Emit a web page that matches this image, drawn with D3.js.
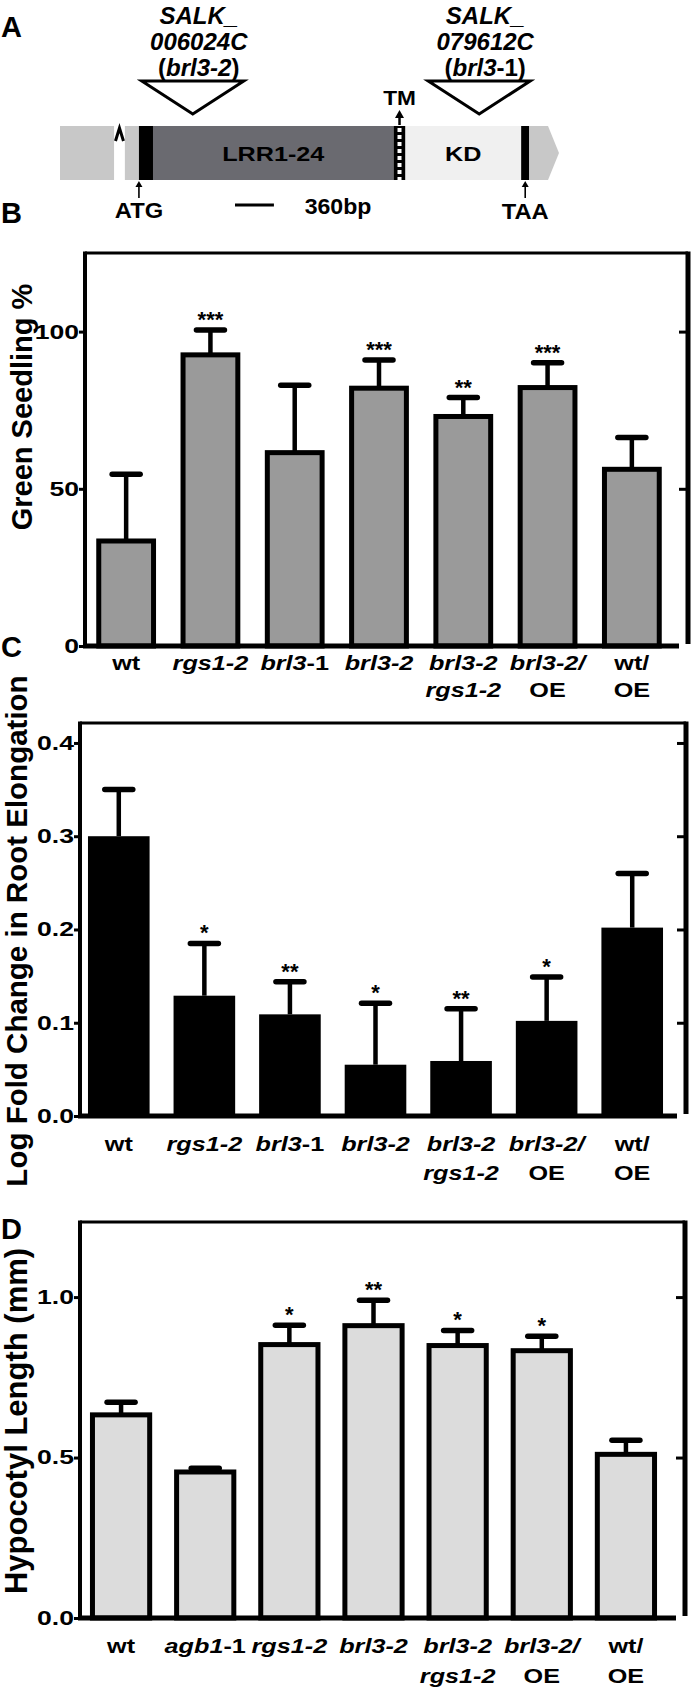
<!DOCTYPE html>
<html lang="en">
<head>
<meta charset="UTF-8">
<title>BRL3 figure</title>
<script src="https://cdn.jsdelivr.net/npm/d3@7"></script>
<style>
  body { margin: 0; background: #fff; }
  svg text { font-family: "Liberation Sans", Arial, sans-serif; font-weight: bold; fill: #000; }
</style>
</head>
<body>
<div id="fig"></div>
<script>
// ---- data ----
// "~" toggles italic, "|" starts a new line
const strainsBC = ["wt", "~rgs1-2~", "~brl3~-1", "~brl3-2~", "~brl3-2~|~rgs1-2~", "~brl3-2/~|OE", "wt/|OE"];
const strainsD = ["wt", "~agb1~-1", "~rgs1-2~", "~brl3-2~", "~brl3-2~|~rgs1-2~", "~brl3-2/~|OE", "wt/|OE"];

const greenMean = [33.4, 92.6, 61.5, 82.0, 73.0, 82.2, 56.2];
const greenErr = [21.2, 7.9, 21.4, 9.0, 6.0, 7.9, 10.1];
const greenSig = ["", "***", "", "***", "**", "***", ""];
const greenTicks = [0, 50, 100];

const rootMean = [0.300, 0.129, 0.109, 0.055, 0.059, 0.102, 0.202];
const rootErr = [0.050, 0.056, 0.035, 0.066, 0.056, 0.047, 0.058];
const rootSig = ["", "*", "**", "*", "**", "*", ""];
const rootTicks = [0, 0.1, 0.2, 0.3, 0.4];

const hypoMean = [0.633, 0.455, 0.852, 0.911, 0.849, 0.833, 0.510];
const hypoErr = [0.039, 0.012, 0.060, 0.079, 0.047, 0.045, 0.044];
const hypoSig = ["", "", "*", "**", "*", "*", ""];
const hypoTicks = [0, 0.5, 1.0];

// gene model (bp from start of transcript)
const partNames = ["utr5a", "utr5b", "start", "LRR1-24", "TM", "KD", "stop", "utr3"];
const partStart = [0, 600, 730, 860, 3085, 3195, 4265, 4340];
const partEnd = [500, 730, 860, 3085, 3195, 4265, 4340, 4615];
const insertLabels = ["~SALK_~|~006024C~|(~brl3-2~)", "~SALK_~|~079612C~|(~brl3~-1)"];
const insertPos = [1228, 3877];
const scaleBarBp = 360;

const W = 692, H = 1688;
const svg = d3.select("#fig").append("svg").attr("width", W).attr("height", H);

// labels in the figure are a little wider than the font
const SX = 1.2;

// write "~italic~" marked string into a text element
function richText(sel, str) {
    str.split("~").forEach((s, i) => {
        if (s === "") return;
        sel.append("tspan").text(s).attr("font-style", i % 2 ? "italic" : "normal");
    });
}

function wideText(parent, x, y, size, str, sx) {
    const t = parent.append("text")
        .attr("transform", `translate(${x},${y}) scale(${sx || SX},1)`)
        .attr("text-anchor", "middle").attr("font-size", size);
    richText(t, str);
    return t;
}

function panelLetter(t, x, y) {
    svg.append("text").attr("x", x).attr("y", y).attr("font-size", 29).text(t);
}

// ---- panel A ----
panelLetter("A", 1, 37);
const gx = d3.scaleLinear().domain([0, 4615]).range([60, 559]);
const gTop = 126, gBot = 180, gMid = (gTop + gBot) / 2;
const partFill = { utr5a: "#c8c8c8", utr5b: "#c8c8c8", start: "#000", "LRR1-24": "#6a6a70",
    TM: "#000", KD: "#f0f0f0", stop: "#000", utr3: "#c8c8c8" };
const gA = svg.append("g");

partNames.forEach((n, i) => {
    const x0 = gx(partStart[i]), x1 = gx(partEnd[i]);
    if (n === "utr3") {
        gA.append("path")
            .attr("d", `M${x0},${gTop}L${x1 - 11},${gTop}L${x1},${gMid}L${x1 - 11},${gBot}L${x0},${gBot}Z`)
            .attr("fill", partFill[n]);
    } else {
        gA.append("rect").attr("x", x0).attr("y", gTop).attr("width", x1 - x0).attr("height", gBot - gTop)
            .attr("fill", partFill[n]);
    }
    if (n === "TM") {
        gA.append("line").attr("x1", (x0 + x1) / 2).attr("x2", (x0 + x1) / 2)
            .attr("y1", gTop + 2).attr("y2", gBot)
            .attr("stroke", "#fff").attr("stroke-width", 4).attr("stroke-dasharray", "4,3");
    }
    if (n === "LRR1-24" || n === "KD") {
        wideText(gA, (x0 + x1) / 2, gMid + 8, 21, n);
    }
});

// intron mark
const ix = (gx(partEnd[0]) + gx(partStart[1])) / 2;
gA.append("path").attr("d", `M${ix - 4},${gTop + 15}L${ix},${gTop + 2}L${ix + 4},${gTop + 15}`)
    .attr("fill", "none").attr("stroke", "#000").attr("stroke-width", 3);

function upArrow(x, y1, y2) {
    gA.append("line").attr("x1", x).attr("x2", x).attr("y1", y2).attr("y2", y1 + 4)
        .attr("stroke", "#000").attr("stroke-width", 1.6);
    gA.append("path").attr("d", `M${x - 3.5},${y1 + 6}L${x},${y1}L${x + 3.5},${y1 + 6}Z`).attr("fill", "#000");
}

// ATG / TAA / TM markers
const atgX = gx(partStart[2]), taaX = gx((partStart[6] + partEnd[6]) / 2), tmX = gx((partStart[4] + partEnd[4]) / 2);
upArrow(atgX, gBot + 1, gBot + 18);
upArrow(taaX, gBot + 1, gBot + 18);
wideText(gA, atgX, 218, 22, "ATG", 1.08);
wideText(gA, taaX, 219, 22, "TAA", 1.08);
gA.append("line").attr("x1", tmX).attr("x2", tmX).attr("y1", gTop - 1).attr("y2", 116)
    .attr("stroke", "#000").attr("stroke-width", 2.5);
gA.append("path").attr("d", `M${tmX - 4.5},${118}L${tmX},${110}L${tmX + 4.5},${118}Z`).attr("fill", "#000");
wideText(gA, tmX, 105, 21, "TM", 1.08);

// scale bar
const sb0 = 235;
gA.append("line").attr("x1", sb0).attr("x2", sb0 + gx(scaleBarBp) - gx(0)).attr("y1", 205).attr("y2", 205)
    .attr("stroke", "#000").attr("stroke-width", 3);
wideText(gA, 338, 214, 22, scaleBarBp + "bp", 1.05);

// insertions
insertPos.forEach((p, i) => {
    const cx = gx(p);
    gA.append("path").attr("d", `M${cx - 51},${81}L${cx + 51},${81}L${cx},${114}Z`)
        .attr("fill", "#fff").attr("stroke", "#000").attr("stroke-width", 3).attr("stroke-linejoin", "miter");
    insertLabels[i].split("|").forEach((line, j) => {
        wideText(gA, cx + 6, 24 + j * 26, 24, line, 1);
    });
});

// ---- bar panels ----
const panels = [
    { letter: "B", ly: 223, cats: strainsBC, mean: greenMean, err: greenErr, sig: greenSig, ticks: greenTicks,
      max: 125, fmt: d3.format("d"), title: "Green Seedling %", titleX: 32, titleY: 407, titleSize: 29,
      fill: "#9a9a9a", outline: 5, bw: 0.65, left: 85, right: 688, top: 253, base: 646, xr: [84, 674],
      rows: [670, 697] },
    { letter: "C", ly: 657, cats: strainsBC, mean: rootMean, err: rootErr, sig: rootSig, ticks: rootTicks,
      max: 0.4214, fmt: d3.format(".1f"), title: "Log Fold Change in Root Elongation", titleX: 27, titleY: 931, titleSize: 29.5,
      fill: "#000", outline: 0, bw: 0.72, left: 80, right: 686, top: 723, base: 1116, xr: [76, 675],
      rows: [1151, 1180] },
    { letter: "D", ly: 1239, cats: strainsD, mean: hypoMean, err: hypoErr, sig: hypoSig, ticks: hypoTicks,
      max: 1.234, fmt: d3.format(".1f"), title: "Hypocotyl Length (mm)", titleX: 27, titleY: 1421, titleSize: 31,
      fill: "#dcdcdc", outline: 5, bw: 0.68, left: 80, right: 685, top: 1222, base: 1618, xr: [79, 668],
      rows: [1653, 1683] }
];

panels.forEach(p => {
    panelLetter(p.letter, 1, p.ly);
    const g = svg.append("g");
    const x = d3.scalePoint().domain(d3.range(p.cats.length)).range(p.xr).padding(0.5);
    const y = d3.scaleLinear().domain([0, p.max]).range([p.base, p.top]);
    const bw = x.step() * p.bw;

    // bars
    g.selectAll("rect.bar").data(p.mean).join("rect").attr("class", "bar")
        .attr("x", (d, i) => x(i) - bw / 2)
        .attr("y", d => y(d))
        .attr("width", bw)
        .attr("height", d => p.base - y(d))
        .attr("fill", p.fill)
        .attr("stroke", "#000")
        .attr("stroke-width", p.outline);

    // error bars (upper only)
    g.selectAll("line.eb").data(p.mean).join("line").attr("class", "eb")
        .attr("x1", (d, i) => x(i)).attr("x2", (d, i) => x(i))
        .attr("y1", d => y(d)).attr("y2", (d, i) => y(d + p.err[i]))
        .attr("stroke", "#000").attr("stroke-width", 4.5);
    g.selectAll("line.cap").data(p.mean).join("line").attr("class", "cap")
        .attr("x1", (d, i) => x(i) - 14).attr("x2", (d, i) => x(i) + 14)
        .attr("y1", (d, i) => y(d + p.err[i])).attr("y2", (d, i) => y(d + p.err[i]))
        .attr("stroke", "#000").attr("stroke-width", 5.5).attr("stroke-linecap", "round");

    // significance stars
    g.selectAll("text.sig").data(p.sig).join("text").attr("class", "sig")
        .attr("x", (d, i) => x(i)).attr("y", (d, i) => y(p.mean[i] + p.err[i]) - 3)
        .attr("text-anchor", "middle").attr("font-size", 22).text(d => d);

    // frame
    g.append("line").attr("x1", p.left).attr("x2", p.right).attr("y1", p.top).attr("y2", p.top)
        .attr("stroke", "#000").attr("stroke-width", 3);
    g.append("line").attr("x1", p.left).attr("x2", p.left).attr("y1", p.top - 1.5).attr("y2", p.base)
        .attr("stroke", "#000").attr("stroke-width", 4);
    g.append("line").attr("x1", p.right).attr("x2", p.right).attr("y1", p.top - 1.5).attr("y2", p.base - 2)
        .attr("stroke", "#000").attr("stroke-width", 5);
    g.append("line").attr("x1", p.left - 2).attr("x2", p.right - 9).attr("y1", p.base).attr("y2", p.base)
        .attr("stroke", "#000").attr("stroke-width", 5);

    // left axis, short ticks outward
    const ax = g.append("g").attr("transform", `translate(${p.left},0)`)
        .call(d3.axisLeft(y).tickValues(p.ticks).tickFormat(p.fmt).tickSize(6));
    ax.select(".domain").remove();
    ax.selectAll(".tick line").attr("stroke", "#000").attr("stroke-width", 3);
    ax.selectAll(".tick text")
        .attr("font-size", 20).attr("font-family", null).attr("fill", "#000")
        .attr("x", -6 / 1.33).attr("transform", "scale(1.33,1)");

    // right axis, ticks inward
    const ar = g.append("g").attr("transform", `translate(${p.right},0)`)
        .call(d3.axisRight(y).tickValues(p.ticks.filter(t => t > 0)).tickSize(-9).tickFormat(""));
    ar.select(".domain").remove();
    ar.selectAll(".tick line").attr("stroke", "#000").attr("stroke-width", 3);

    // y title
    g.append("text")
        .attr("transform", `translate(${p.titleX},${p.titleY}) rotate(-90)`)
        .attr("text-anchor", "middle").attr("font-size", p.titleSize).text(p.title);

    // category labels
    p.cats.forEach((c, i) => {
        c.split("|").forEach((line, j) => {
            wideText(g, x(i), p.rows[j], 21, line);
        });
    });
});
</script>
</body>
</html>
